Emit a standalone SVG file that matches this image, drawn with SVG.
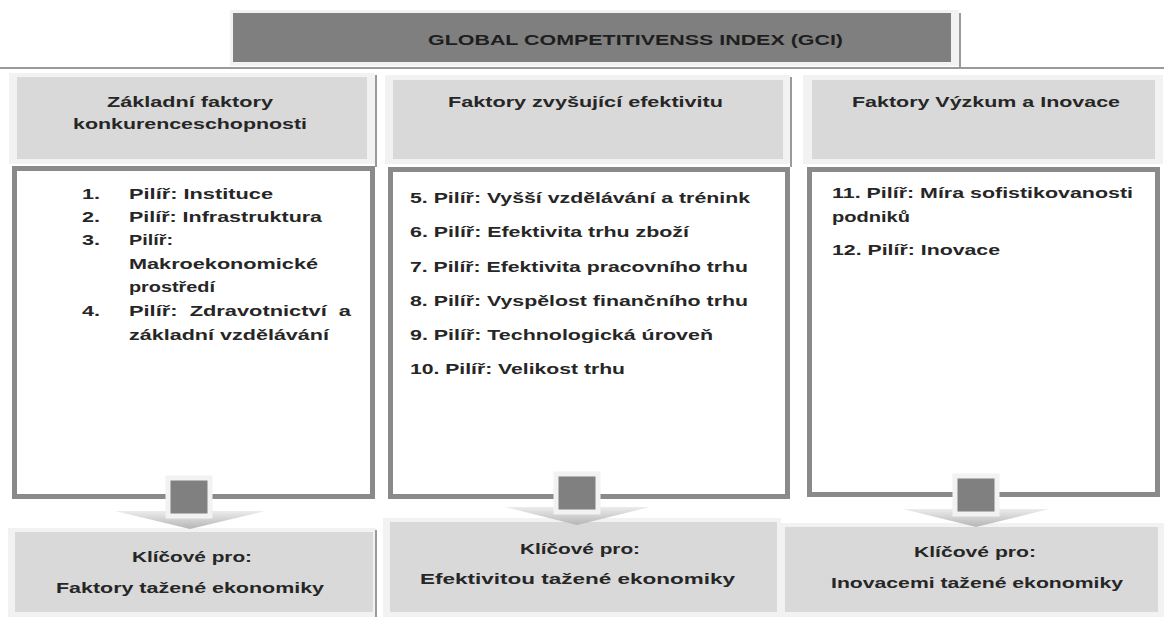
<svg xmlns="http://www.w3.org/2000/svg" width="1164" height="617" viewBox="0 0 1164 617">
<style>
text{font-family:"Liberation Sans",Arial,sans-serif;font-weight:bold;fill:#262626;font-size:15px}
.ttl{font-size:14px;fill:#1e1e1e}
.pre{white-space:pre}
.lt{fill:#f2f2f2}
.hd{fill:#d9d9d9}
.box{fill:#fff;stroke:#8a8a8a;stroke-width:5}
.sh{stroke:#9a9a9a;stroke-width:2;fill:none}
.shaft{fill:#808080;stroke:#f2f2f2;stroke-width:5}
.head{fill:url(#hg)}
</style>
<defs>
<linearGradient id="hg" x1="0" y1="0" x2="0" y2="1">
<stop offset="0" stop-color="#ececec"/>
<stop offset="1" stop-color="#b5b5b5"/>
</linearGradient>
</defs>
<rect width="1164" height="617" fill="#fff"/>

<g id="title">
<line class="sh" x1="0" y1="68" x2="1164" y2="68"/>
<rect class="lt" x="230" y="10" width="729" height="56"/>
<rect x="233" y="13" width="718" height="49" fill="#7f7f7f"/>
<line class="sh" x1="960" y1="13" x2="960" y2="67"/>
<text class="ttl" x="428" y="45" textLength="415" lengthAdjust="spacingAndGlyphs">GLOBAL COMPETITIVENSS INDEX (GCI)</text>
</g>

<g id="header1">
<rect class="lt" x="9" y="73" width="366" height="91"/>
<rect class="hd" x="17" y="77" width="350" height="82"/>
<line class="sh" x1="376" y1="75" x2="376" y2="167"/>
<text x="107" y="107" textLength="166" lengthAdjust="spacingAndGlyphs">Základní faktory</text>
<text x="73" y="129" textLength="234" lengthAdjust="spacingAndGlyphs">konkurenceschopnosti</text>
</g>
<g id="header2">
<rect class="lt" x="385" y="75" width="405" height="89"/>
<rect class="hd" x="393" y="80" width="390" height="79"/>
<line class="sh" x1="791" y1="77" x2="791" y2="167"/>
<text x="448" y="107" textLength="275" lengthAdjust="spacingAndGlyphs">Faktory zvyšující efektivitu</text>
</g>
<g id="header3">
<rect class="lt" x="803" y="75" width="360" height="89"/>
<rect class="hd" x="812" y="80" width="343" height="79"/>
<text x="852" y="107" textLength="268" lengthAdjust="spacingAndGlyphs">Faktory Výzkum a Inovace</text>
</g>

<g id="pillars1">
<rect class="box" x="14.5" y="168.5" width="358" height="328"/>
<text x="82" y="199" textLength="18" lengthAdjust="spacingAndGlyphs">1.</text><text x="129" y="199" textLength="144" lengthAdjust="spacingAndGlyphs">Pilíř: Instituce</text>
<text x="82" y="222" textLength="18" lengthAdjust="spacingAndGlyphs">2.</text><text x="129" y="222" textLength="193" lengthAdjust="spacingAndGlyphs">Pilíř: Infrastruktura</text>
<text x="82" y="245" textLength="18" lengthAdjust="spacingAndGlyphs">3.</text><text x="129" y="245" textLength="44" lengthAdjust="spacingAndGlyphs">Pilíř:</text>
<text x="129" y="269" textLength="189" lengthAdjust="spacingAndGlyphs">Makroekonomické</text>
<text x="129" y="292" textLength="86" lengthAdjust="spacingAndGlyphs">prostředí</text>
<text x="82" y="316" textLength="18" lengthAdjust="spacingAndGlyphs">4.</text><text class="pre" x="129" y="316" textLength="222" lengthAdjust="spacingAndGlyphs">Pilíř:  Zdravotnictví  a</text>
<text x="129" y="340" textLength="200" lengthAdjust="spacingAndGlyphs">základní vzdělávání</text>
</g>

<g id="pillars2">
<rect class="box" x="390.5" y="169.5" width="397" height="327"/>
<text x="410" y="203" textLength="340" lengthAdjust="spacingAndGlyphs">5. Pilíř: Vyšší vzdělávání a trénink</text>
<text x="410" y="237" textLength="279" lengthAdjust="spacingAndGlyphs">6. Pilíř: Efektivita trhu zboží</text>
<text x="410" y="272" textLength="338" lengthAdjust="spacingAndGlyphs">7. Pilíř: Efektivita pracovního trhu</text>
<text x="410" y="306" textLength="338" lengthAdjust="spacingAndGlyphs">8. Pilíř: Vyspělost finančního trhu</text>
<text x="410" y="340" textLength="303" lengthAdjust="spacingAndGlyphs">9. Pilíř: Technologická úroveň</text>
<text x="410" y="374" textLength="215" lengthAdjust="spacingAndGlyphs">10. Pilíř: Velikost trhu</text>
</g>

<g id="pillars3">
<rect class="box" x="809.5" y="169.5" width="348" height="325"/>
<text x="832" y="198" textLength="301" lengthAdjust="spacingAndGlyphs">11. Pilíř: Míra sofistikovanosti</text>
<text x="832" y="222" textLength="78" lengthAdjust="spacingAndGlyphs">podniků</text>
<text x="832" y="255" textLength="168" lengthAdjust="spacingAndGlyphs">12. Pilíř: Inovace</text>
</g>

<g id="key1">
<rect class="lt" x="8" y="528" width="368" height="89"/>
<rect class="hd" x="15" y="532" width="358" height="80"/>
<line class="sh" x1="376" y1="530" x2="376" y2="617"/>
<text x="132" y="562" textLength="120" lengthAdjust="spacingAndGlyphs">Klíčové pro:</text>
<text x="56" y="593" textLength="268" lengthAdjust="spacingAndGlyphs">Faktory tažené ekonomiky</text>
</g>
<g id="key2">
<rect class="lt" x="383" y="518" width="398" height="99"/>
<rect class="hd" x="390" y="522" width="387" height="90"/>
<text x="520" y="554" textLength="120" lengthAdjust="spacingAndGlyphs">Klíčové pro:</text>
<text x="420" y="584" textLength="315" lengthAdjust="spacingAndGlyphs">Efektivitou tažené ekonomiky</text>
</g>
<g id="key3">
<rect class="lt" x="781" y="523" width="383" height="94"/>
<rect class="hd" x="785" y="527" width="373" height="85"/>
<text x="914" y="557" textLength="122" lengthAdjust="spacingAndGlyphs">Klíčové pro:</text>
<text x="831" y="588" textLength="292" lengthAdjust="spacingAndGlyphs">Inovacemi tažené ekonomiky</text>
</g>

<g id="connectors">
<polygon class="head" points="115,511 265,511 190,529"/>
<rect class="shaft" x="168" y="478" width="42" height="38"/>
<polygon class="head" points="505,507 650,507 577,525"/>
<rect class="shaft" x="556" y="474" width="42" height="38"/>
<polygon class="head" points="903,509 1049,509 976,527"/>
<rect class="shaft" x="955" y="476" width="42" height="38"/>
</g>
</svg>
